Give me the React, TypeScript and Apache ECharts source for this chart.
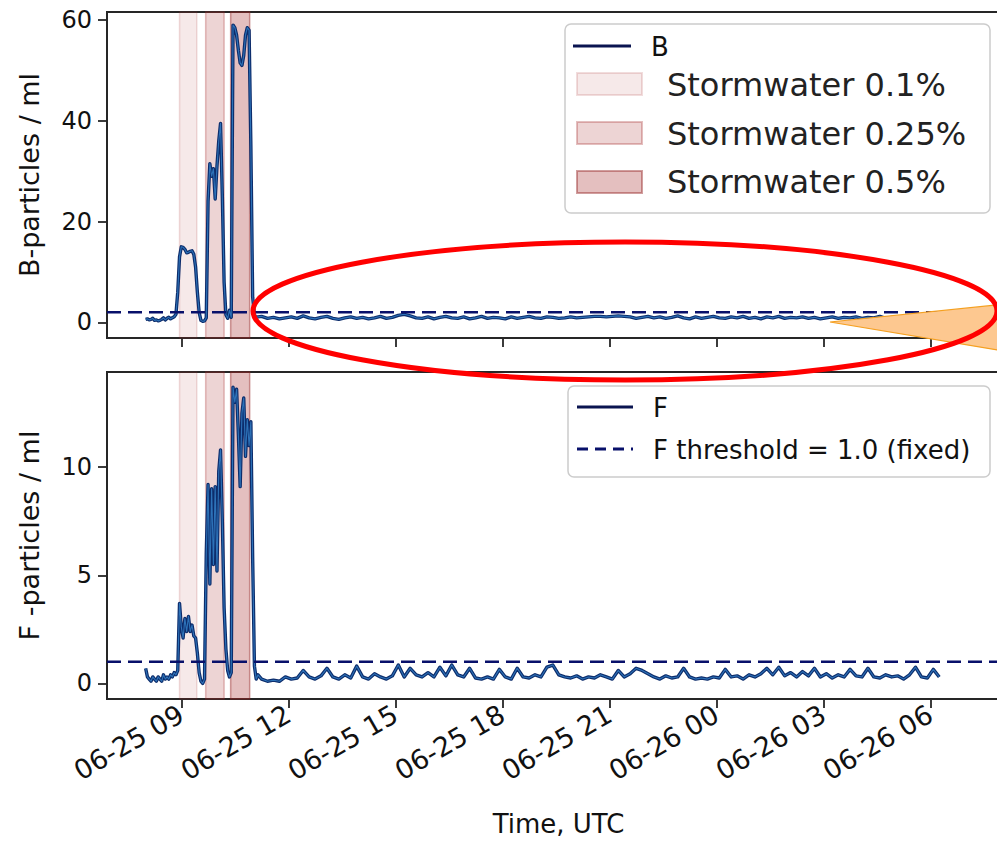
import { useEffect, useRef } from 'react';
import * as echarts from 'echarts';

// ---- time grids (instrument sampling) ----
const EARLY_START = '06-25 08:00';
const EARLY_STEP_MIN = 3;
const LATE_START = '06-25 11:15';
const LATE_STEP_MIN = 10;

// B-particles / ml, 08:00 - 11:09 every 3 min
const bEarly = [
  0.6, 0.7, 0.5, 0.6, 0.8, 0.4, 0.5, 0.3, 0.4, 0.6,
  0.9, 0.5, 0.8, 1.0, 0.7, 0.9, 1.1, 1.6, 6.0, 13.0,
  15.0, 14.9, 14.5, 13.8, 13.9, 14.1, 14.2, 13.5, 11.0, 6.0,
  2.0, 0.4, 0.2, 0.3, 0.9, 24.0, 31.5, 29.0, 30.5, 24.5,
  31.0, 36.0, 39.5, 25.0, 8.0, 1.5, 0.8, 2.4, 1.0, 59.0,
  58.5, 57.0, 54.0, 51.5, 51.0, 53.0, 57.0, 58.5, 58.0, 35.0,
  5.0, 1.5, 0.9, 1.1,
];
// F-particles / ml, 08:00 - 11:09 every 3 min
const fEarly = [
  0.7, 0.3, 0.2, 0.1, 0.3, 0.2, 0.1, 0.3, 0.2, 0.1,
  0.4, 0.2, 0.3, 0.2, 0.4, 0.3, 0.5, 0.4, 0.6, 3.7,
  2.6, 2.1, 3.0, 2.4, 3.1, 2.4, 2.7, 2.2, 2.1, 1.4,
  0.5, 0.1, 0.0, 0.2, 6.0, 9.2, 4.6, 9.0, 5.5, 9.1,
  5.2, 9.8, 10.8, 7.5, 3.5, 1.6, 0.6, 0.3, 0.5, 13.7,
  13.0, 13.6, 11.5, 9.1, 12.5, 13.2, 10.5, 12.2, 11.0, 12.1,
  5.8, 0.8, 0.2, 0.4,
];
// B-particles / ml, 11:15 - 06:15 every 10 min
const bLate = [
  1.2, 0.8, 1.0, 0.7, 0.9, 1.1, 0.8, 1.3, 0.9, 0.7,
  1.0, 1.2, 0.8, 0.6, 0.9, 1.1, 0.8, 1.0, 0.7, 0.9,
  1.2, 0.8, 1.0, 1.4, 1.6, 1.3, 0.9, 0.8, 1.1, 0.7,
  1.0, 1.2, 0.9, 0.8, 1.1, 0.7, 0.9, 1.2, 0.8, 1.0,
  0.9, 0.7, 1.1, 0.8, 1.0, 1.2, 0.9, 0.8, 1.1, 1.0,
  0.8, 0.9, 1.1, 0.9, 1.0, 1.1, 1.2, 1.2, 1.1, 1.2,
  1.3, 1.2, 1.1, 0.8, 1.0, 1.2, 0.9, 1.1, 0.8, 1.0,
  1.3, 0.9, 0.7, 1.1, 0.8, 1.0, 1.2, 0.9, 0.8, 1.1,
  0.9, 1.2, 0.8, 1.0, 0.7, 1.1, 0.9, 1.2, 0.8, 1.0,
  0.9, 1.1, 0.8, 1.0, 0.7, 0.9, 1.1, 0.8, 1.0, 0.9,
  1.1, 0.8, 1.0, 0.9, 1.2, 0.8, 1.0, 0.9, 1.1, 0.8,
  1.0, 0.9, 1.1, 0.8, 1.0,
];
// F-particles / ml, 11:15 - 06:15 every 10 min
const fLate = [
  0.2, 0.1, 0.15, 0.1, 0.3, 0.2, 0.25, 0.6, 0.3, 0.2,
  0.35, 0.7, 0.3, 0.2, 0.4, 0.25, 0.8, 0.3, 0.2, 0.45,
  0.3, 0.2, 0.35, 0.85, 0.3, 0.7, 0.4, 0.3, 0.5, 0.3,
  0.75, 0.35, 0.85, 0.4, 0.3, 0.7, 0.25, 0.2, 0.3, 0.2,
  0.65, 0.3, 0.2, 0.7, 0.3, 0.25, 0.4, 0.3, 0.75, 0.85,
  0.4, 0.3, 0.25, 0.35, 0.2, 0.3, 0.25, 0.4, 0.3, 0.2,
  0.6, 0.3, 0.45, 0.7, 0.6, 0.45, 0.3, 0.2, 0.35, 0.25,
  0.3, 0.7, 0.3, 0.2, 0.25, 0.2, 0.3, 0.25, 0.65, 0.3,
  0.35, 0.2, 0.4, 0.3, 0.45, 0.7, 0.4, 0.75, 0.35, 0.5,
  0.3, 0.55, 0.35, 0.7, 0.3, 0.45, 0.25, 0.4, 0.3, 0.65,
  0.35, 0.3, 0.7, 0.3, 0.25, 0.4, 0.3, 0.35, 0.2, 0.4,
  0.75, 0.3, 0.25, 0.65, 0.3,
];

const B_THRESHOLD = 2.0;
const F_THRESHOLD = 1.0;

const stormLabels = ['Stormwater 0.1%', 'Stormwater 0.25%', 'Stormwater 0.5%'];
const stormStarts = ['06-25 08:57', '06-25 09:41', '06-25 10:23'];
const stormEnds = ['06-25 09:26', '06-25 10:12', '06-25 10:55'];

const xTickLabels = ['06-25 09', '06-25 12', '06-25 15', '06-25 18', '06-25 21', '06-26 00', '06-26 03', '06-26 06'];
const X_MIN_TIME = '06-25 06:55';
const X_MAX_TIME = '06-26 08:14';
const bTicks = [0, 20, 40, 60];
const fTicks = [0, 5, 10];
const B_RANGE = [-3.1, 61.6];
const F_RANGE = [-0.72, 14.4];

// ---- helpers ----
const toHours = (s: string) => {
  const [md, hm] = s.split(' ');
  const day = Number(md.split('-')[1]);
  const [h, m] = (hm.includes(':') ? hm : hm + ':00').split(':').map(Number);
  return (day - 25) * 24 + h + m / 60;
};
const buildSeries = (start: string, stepMin: number, vals: number[]) => {
  const h0 = toHours(start);
  return vals.map((v, i) => [h0 + (i * stepMin) / 60, v]);
};

const FONT = 'DejaVu Sans';
const LINE_DARK = '#0d2d6c';
const LINE_LIGHT = '#2d72b8';
const THRESH = '#08106a';
const stormFill = ['rgba(165,42,42,0.10)', 'rgba(165,42,42,0.20)', 'rgba(165,42,42,0.30)'];
const stormEdge = ['rgba(165,42,42,0.16)', 'rgba(165,42,42,0.30)', 'rgba(150,40,40,0.45)'];

export default function App() {
  const ref = useRef<HTMLDivElement>(null);
  useEffect(() => {
    if (!ref.current) return;
    const chart = echarts.init(ref.current, undefined, { renderer: 'svg' });
    const bData = [...buildSeries(EARLY_START, EARLY_STEP_MIN, bEarly), ...buildSeries(LATE_START, LATE_STEP_MIN, bLate)];
    const fData = [...buildSeries(EARLY_START, EARLY_STEP_MIN, fEarly), ...buildSeries(LATE_START, LATE_STEP_MIN, fLate)];
    const xMin = toHours(X_MIN_TIME);
    const xMax = toHours(X_MAX_TIME);
    const tickHours = xTickLabels.map((l) => toHours(l));
    const areas = stormLabels.map((name, i) => [
      { xAxis: toHours(stormStarts[i]), name, itemStyle: { color: stormFill[i], borderColor: stormEdge[i], borderWidth: 1.5 } },
      { xAxis: toHours(stormEnds[i]) },
    ]);
    const frame = '#262626';
    const xAxisBase = (grid: number, labels: boolean) => ({
      type: 'value',
      gridIndex: grid,
      min: xMin,
      max: xMax,
      splitLine: { show: false },
      axisLine: { show: true, onZero: false, lineStyle: { color: frame, width: 2 } },
      axisTick: { show: true, customValues: tickHours, length: 9, lineStyle: { color: frame, width: 1.8 } },
      axisLabel: {
        show: labels,
        customValues: tickHours,
        rotate: 30,
        margin: 13,
        fontFamily: FONT,
        fontSize: 27,
        color: '#111',
        formatter: (v: number) => {
          const idx = tickHours.findIndex((t) => Math.abs(t - v) < 1e-6);
          return idx >= 0 ? xTickLabels[idx] : '';
        },
      },
      ...(labels
        ? { name: 'Time, UTC', nameLocation: 'middle', nameGap: 112, nameTextStyle: { fontFamily: FONT, fontSize: 26, color: '#111' } }
        : {}),
    });
    const yAxisBase = (grid: number, range: number[], ticks: number[], name: string) => ({
      type: 'value',
      gridIndex: grid,
      min: range[0],
      max: range[1],
      name,
      nameLocation: 'middle',
      nameGap: 64,
      nameRotate: 90,
      nameTextStyle: { fontFamily: FONT, fontSize: 27, color: '#111' },
      splitLine: { show: false },
      axisLine: { show: true, onZero: false, lineStyle: { color: frame, width: 2 } },
      axisTick: { show: true, customValues: ticks, length: 9, lineStyle: { color: frame, width: 1.8 } },
      axisLabel: { customValues: ticks, margin: 15, fontFamily: FONT, fontSize: 24, color: '#111' },
    });
    const lineSeries = (name: string, data: number[][], grid: number, color: string, width: number, z: number) => ({
      type: 'line',
      name,
      xAxisIndex: grid,
      yAxisIndex: grid,
      data,
      symbol: 'none',
      z,
      silent: true,
      lineStyle: { color, width, join: 'round' },
      itemStyle: { color },
    });
    const thresholdSeries = (name: string, value: number, grid: number) => ({
      type: 'line',
      name,
      xAxisIndex: grid,
      yAxisIndex: grid,
      data: [[xMin, value], [xMax, value]],
      symbol: 'none',
      z: 4,
      silent: true,
      lineStyle: { color: THRESH, width: 2.6, type: [14, 7] },
      markArea: { silent: true, z: 1, label: { show: false }, data: areas },
    });

    const tri = [[830, 322], [1030, 301.5], [1030, 355.5]];

    chart.setOption({
      animation: false,
      backgroundColor: '#ffffff',
      textStyle: { fontFamily: FONT },
      grid: [
        { left: 107, top: 12, width: 903, height: 326, show: true, borderColor: frame, borderWidth: 2, backgroundColor: 'transparent' },
        { left: 107, top: 372, width: 903, height: 327, show: true, borderColor: frame, borderWidth: 2, backgroundColor: 'transparent' },
      ],
      xAxis: [xAxisBase(0, false), xAxisBase(1, true)],
      yAxis: [yAxisBase(0, B_RANGE, bTicks, 'B-particles / ml'), yAxisBase(1, F_RANGE, fTicks, 'F -particles / ml')],
      series: [
        thresholdSeries('B threshold', B_THRESHOLD, 0),
        lineSeries('B', bData, 0, LINE_DARK, 3.4, 3),
        lineSeries('B core', bData, 0, LINE_LIGHT, 1.1, 3),
        thresholdSeries('F threshold = 1.0 (fixed)', F_THRESHOLD, 1),
        lineSeries('F', fData, 1, LINE_DARK, 3.4, 3),
        lineSeries('F core', fData, 1, LINE_LIGHT, 1.1, 3),
      ],
      graphic: [
        // top legend
        { type: 'rect', z: 50, shape: { x: 565, y: 24, width: 425, height: 189, r: 6 }, style: { fill: 'rgba(255,255,255,0.9)', stroke: '#cccccc', lineWidth: 1.5 } },
        { type: 'line', z: 51, shape: { x1: 573, y1: 46, x2: 631, y2: 46 }, style: { stroke: '#0a1450', lineWidth: 3 } },
        { type: 'text', z: 51, x: 651, y: 47, style: { text: 'B', fontFamily: FONT, fontSize: 26, fill: '#111', verticalAlign: 'middle' } },
        ...stormLabels.flatMap((lab, i) => [
          { type: 'rect', z: 51, shape: { x: 577, y: 73 + i * 49, width: 65, height: 22 }, style: { fill: stormFill[i], stroke: stormEdge[i], lineWidth: 2 } },
          { type: 'text', z: 51, x: 667, y: 85 + i * 48.5, style: { text: lab, fontFamily: FONT, fontSize: 32, fill: '#222', verticalAlign: 'middle' } },
        ]),
        // bottom legend
        { type: 'rect', z: 50, shape: { x: 568, y: 386, width: 422, height: 91, r: 6 }, style: { fill: 'rgba(255,255,255,0.9)', stroke: '#cccccc', lineWidth: 1.5 } },
        { type: 'line', z: 51, shape: { x1: 577, y1: 407, x2: 633, y2: 407 }, style: { stroke: '#0a1450', lineWidth: 3 } },
        { type: 'text', z: 51, x: 653, y: 408, style: { text: 'F', fontFamily: FONT, fontSize: 26, fill: '#111', verticalAlign: 'middle' } },
        { type: 'line', z: 51, shape: { x1: 577, y1: 449, x2: 633, y2: 449 }, style: { stroke: THRESH, lineWidth: 3, lineDash: [11, 7] } },
        { type: 'text', z: 51, x: 653, y: 450, style: { text: 'F threshold = 1.0 (fixed)', fontFamily: FONT, fontSize: 26, fill: '#111', verticalAlign: 'middle' } },
        // annotations
        { type: 'polygon', z: 60, shape: { points: tri }, style: { fill: '#fdc890', stroke: '#f5a020', lineWidth: 1.2 } },
        { type: 'ellipse', z: 61, shape: { cx: 625, cy: 311, rx: 372, ry: 69 }, style: { fill: 'none', stroke: '#ff0000', lineWidth: 5 } },
      ],
    });
    return () => chart.dispose();
  }, []);
  return (
    <div style={{ position: 'fixed', left: 0, top: 0, width: 997, height: 842, overflow: 'hidden', background: '#fff' }}>
      <div ref={ref} style={{ width: 1030, height: 842 }} />
    </div>
  );
}
